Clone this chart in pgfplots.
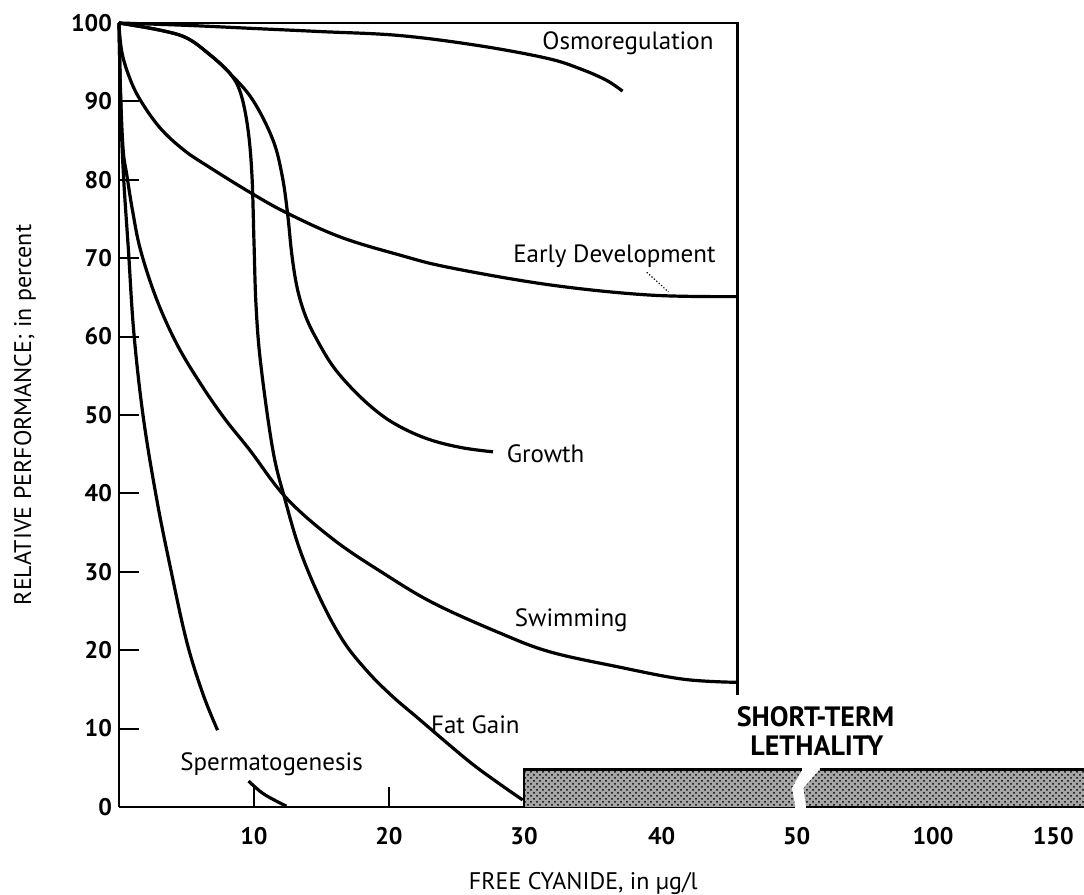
\documentclass[border=0pt]{standalone}
\usepackage{pgfplots}
\pgfplotsset{compat=1.18}
\usepackage{fontspec}
\setmainfont{PT Sans}
\usetikzlibrary{patterns}

\begin{document}
\begin{tikzpicture}
\begin{axis}[
  at={(0,0)}, anchor=south west,
  x=6.75pt, y=3.92pt,
  xmin=0, xmax=71.5, ymin=0, ymax=100,
  clip=false,
  axis line style={draw=none},
  tick pos=left, tick align=inside,
  major tick length=10pt,
  tick style={black, line width=1pt},
  xtick={10,20},
  extra x ticks={30,40.2,50.2,60.3,69.2},
  extra x tick labels={30,40,50,100,150},
  extra x tick style={major tick length=0pt},
  ytick={0,10,...,100},
  /pgf/number format/assume math mode=true,
  tick label style={font=\bfseries\fontsize{12}{14}\selectfont},
  x tick label style={yshift=-6.5pt},
  xlabel={FREE CYANIDE, in µg/l},
  ylabel={RELATIVE PERFORMANCE; in percent},
  xlabel style={at={(axis description cs:0.481,0)}, anchor=base, yshift=-41.5pt, font=\fontsize{12}{14}\selectfont},
  ylabel style={at={(axis description cs:-0.0974,0.5)}, anchor=center, font=\fontsize{12}{14}\selectfont},
  no markers,
  every axis plot/.append style={black},
]
% frame
\addplot[line width=1.3pt] coordinates {(0,0) (0,100) (45.8,100) (45.8,14.3)};
\addplot[line width=1.3pt] coordinates {(0,0) (50.1,0)};

% short-term lethality bar
\addplot[draw=none, fill=gray!70, postaction={pattern=crosshatch dots, pattern color=black}] coordinates {(30,0) (30,4.8) (50.6,4.8) (49.85,2.4) (50.1,0)} -- cycle;
\addplot[draw=none, fill=gray!70, postaction={pattern=crosshatch dots, pattern color=black}] coordinates {(50.9,0) (50.7,2.4) (51.9,4.8) (71.5,4.8) (71.5,0)} -- cycle;
\addplot[line width=1.3pt] coordinates {(30,0) (30,4.8) (50.6,4.8)};
\addplot[line width=1.3pt] coordinates {(51.9,4.8) (71.5,4.8)};
\addplot[line width=1.3pt] coordinates {(50.9,0) (71.5,0)};

% Osmoregulation
\addplot[line width=1.6pt, smooth, tension=0.6] coordinates {(0,100) (5,99.7) (10,99.3) (15,98.9) (20.8,98.4) (26.7,97.1) (31.7,95.5) (34.1,94.2) (36.1,92.7) (37.3,91.3)};
% Early Development
\addplot[line width=1.6pt, smooth, tension=0.6] coordinates {(0,99.7) (0.2,96.4) (0.7,93.4) (1.5,90.4) (3.0,86.7) (4.8,83.8) (6.7,81.6) (9.7,78.4) (12.4,75.8) (16.4,72.7) (20.8,70.4) (24.5,68.8) (31.9,66.6) (39.3,65.3) (45.8,65.1)};
\addplot[line width=0.6pt, densely dotted] coordinates {(39.1,68.2) (40.7,65.7)};
% Growth
\addplot[line width=1.6pt, smooth, tension=0.6] coordinates {(0,100) (3.0,99.1) (5.0,98.1) (6.7,96.0) (8.2,93.6) (9.9,90.2) (11.4,85.1) (12.1,80.4) (12.5,75.5) (12.8,70.5) (13.2,66.2) (13.8,62.7) (14.6,59.8) (15.9,56.1) (17.7,52.6) (19.6,49.8) (21.4,48.0) (23.3,46.7) (25.5,45.8) (27.7,45.3)};
% Fat Gain
\addplot[line width=1.6pt, smooth, tension=0.6] coordinates {(0,100) (3.0,99.1) (5.0,98.1) (6.7,96.0) (8.2,93.6) (9.0,91.1) (9.55,86.5) (9.85,80.5) (10.0,72.0) (10.15,64.0) (10.5,56.5) (11.4,45.5) (12.3,39.2) (13.4,32.8) (14.9,26.6) (16.6,21.2) (18.4,17.3) (20.2,14.2) (22.1,11.4) (25.8,6.0) (27.9,3.3) (29.9,0.9)};
% Swimming
\addplot[line width=1.6pt, smooth, tension=0.6] coordinates {(0,100) (0.1,92) (0.3,84) (0.6,80.4) (1.0,76.1) (1.6,71.0) (2.8,64.7) (4.3,59.0) (6.0,54.1) (7.8,49.6) (9.7,45.5) (12.4,39.4) (15.9,34.1) (19.6,29.8) (23.3,26.0) (28.2,22.2) (31.9,19.8) (36.9,17.9) (41.8,16.3) (45.8,15.9)};
% Spermatogenesis
\addplot[line width=1.6pt, smooth, tension=0.6] coordinates {(0,100) (0.15,88) (0.35,80) (0.7,71) (1.1,60.5) (1.8,49.7) (2.8,39.2) (3.8,30.6) (5.0,21.2) (6.2,14.5) (7.3,9.8)};
\addplot[line width=1.6pt, smooth, tension=0.6] coordinates {(9.6,3.3) (10.6,1.8) (11.6,0.8) (12.4,0.1)};

% labels
\node[anchor=base, font=\fontsize{12.5}{15}\selectfont] at (axis cs:37.7,96.6) {Osmoregulation};
\node[anchor=base, font=\fontsize{12.5}{15}\selectfont] at (axis cs:36.7,69.4) {Early Development};
\node[anchor=base, font=\fontsize{12.5}{15}\selectfont] at (axis cs:31.6,43.9) {Growth};
\node[anchor=base, font=\fontsize{12.5}{15}\selectfont] at (axis cs:33.5,23.0) {Swimming};
\node[anchor=base, font=\fontsize{12.5}{15}\selectfont] at (axis cs:26.4,9.4) {Fat Gain};
\node[anchor=base, font=\fontsize{12.5}{15}\selectfont] at (axis cs:11.3,4.7) {Spermatogenesis};
\node[anchor=base, font=\bfseries\fontsize{14}{16}\selectfont] at (axis cs:51.6,10.3) {SHORT-TERM};
\node[anchor=base, font=\bfseries\fontsize{14}{16}\selectfont] at (axis cs:51.7,6.6) {LETHALITY};
\end{axis}
\pgfresetboundingbox
\path[use as bounding box] (-59.5pt,-44pt) rectangle (482.5pt,403.5pt);
\end{tikzpicture}
\end{document}
